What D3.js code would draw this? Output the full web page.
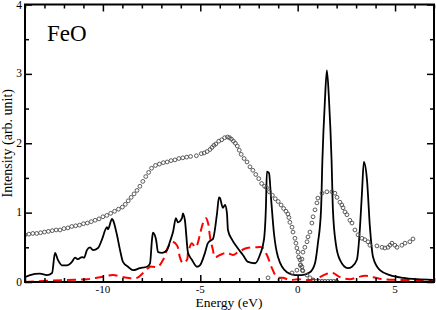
<!DOCTYPE html>
<html><head><meta charset="utf-8">
<script src="https://cdn.jsdelivr.net/npm/d3@7/dist/d3.min.js"></script>
<style>body{margin:0;background:#fff}svg{display:block}text{font-family:"Liberation Serif","Times New Roman",serif;fill:#000}</style>
</head><body>
<script>
// ---- data ----
const title = "FeO";
const xLabel = "Energy (eV)";
const yLabel = "Intensity (arb. unit)";
const xDomain = [-14, 7];
const yDomain = [0, 4];
const xMajorTicks = [-10, -5, 0, 5];
const yMajorTicks = [0, 1, 2, 3, 4];

// calculated spectrum (solid black)
const calcE = [-14.0,-13.74,-13.23,-12.87,-12.61,-12.46,-12.31,-12.1,-11.85,-11.59,-11.43,-11.28,-11.07,-10.97,-10.82,-10.66,-10.51,-10.25,-10.05,-9.79,-9.74,-9.53,-9.48,-9.28,-9.12,-8.97,-8.71,-8.45,-8.1,-7.74,-7.58,-7.48,-7.43,-7.27,-7.17,-6.96,-6.71,-6.56,-6.4,-6.25,-6.15,-5.94,-5.89,-5.79,-5.63,-5.43,-5.17,-5.02,-4.76,-4.61,-4.4,-4.35,-4.14,-4.04,-3.99,-3.84,-3.73,-3.63,-3.58,-3.37,-3.11,-2.81,-2.55,-2.19,-1.94,-1.73,-1.63,-1.58,-1.47,-1.37,-1.22,-1.01,-0.55,-0.14,0.22,0.63,0.89,1.04,1.2,1.27,1.4,1.5,1.61,1.74,1.81,1.97,2.17,2.58,2.79,3.04,3.2,3.3,3.4,3.56,3.71,3.87,4.22,4.74,5.41,6.12,6.94];
const calcI = [0.07,0.10,0.12,0.10,0.13,0.42,0.32,0.24,0.24,0.29,0.35,0.33,0.36,0.35,0.46,0.50,0.46,0.49,0.61,0.79,0.76,0.91,0.89,0.68,0.46,0.29,0.22,0.17,0.20,0.22,0.27,0.61,0.71,0.61,0.43,0.42,0.46,0.58,0.72,0.92,0.86,0.92,0.99,0.89,0.42,0.32,0.22,0.24,0.42,0.56,0.61,0.62,0.99,1.22,1.21,1.07,1.11,0.99,0.75,0.61,0.50,0.39,0.29,0.27,0.39,0.61,1.08,1.59,1.57,1.22,0.71,0.36,0.14,0.10,0.10,0.14,0.27,0.56,1.04,1.76,2.62,3.05,2.62,1.76,1.04,0.53,0.32,0.20,0.22,0.32,0.79,1.28,1.73,1.47,0.79,0.36,0.17,0.10,0.06,0.04,0.03];

// O-p partial (red dashed)
const partE = [-14,-11.84,-10.81,-10.15,-9.48,-8.76,-8.25,-7.94,-7.58,-7.43,-7.17,-6.91,-6.66,-6.45,-6.2,-6.04,-5.89,-5.68,-5.63,-5.43,-5.27,-5.17,-5.02,-4.86,-4.71,-4.6,-4.5,-4.35,-4.25,-3.99,-3.63,-3.32,-3.06,-2.6,-2.09,-1.83,-1.58,-1.32,-1.06,-0.76,-0.4,0.02,0.63,1.14,1.5,1.81,2.17,2.68,3.1,3.45,3.87,4.38,5.1,6.94];
const partI = [0.0,0.03,0.04,0.07,0.10,0.06,0.06,0.13,0.22,0.22,0.22,0.32,0.50,0.58,0.53,0.35,0.27,0.32,0.42,0.56,0.50,0.53,0.68,0.85,0.92,0.85,0.65,0.46,0.36,0.39,0.42,0.39,0.43,0.49,0.50,0.50,0.39,0.20,0.07,0.06,0.03,0.04,0.03,0.07,0.12,0.13,0.07,0.04,0.07,0.09,0.07,0.04,0.03,0.03];

// experiment, photoemission (open circles)
const xpsE = [-14.0,-13.8,-13.6,-13.4,-13.2,-13.0,-12.8,-12.6,-12.4,-12.2,-12.0,-11.8,-11.6,-11.4,-11.2,-11.0,-10.8,-10.6,-10.4,-10.2,-10.0,-9.8,-9.6,-9.4,-9.2,-9.0,-8.85,-8.7,-8.55,-8.4,-8.25,-8.1,-7.95,-7.8,-7.65,-7.5,-7.3,-7.1,-6.9,-6.7,-6.5,-6.3,-6.1,-5.9,-5.7,-5.5,-5.2,-4.95,-4.8,-4.65,-4.5,-4.4,-4.3,-4.2,-4.05,-3.9,-3.75,-3.6,-3.5,-3.4,-3.3,-3.2,-3.1,-3.0,-2.9,-2.75,-2.6,-2.45,-2.3,-2.15,-2.0,-1.85,-1.7,-1.6,-1.45,-1.3,-1.15,-1.0,-0.85,-0.72,-0.6,-0.5,-0.45,-0.4,-0.29,-0.24,-0.14,-0.09,-0.04,0.02,0.05,0.12,0.14,0.22,0.24,0.27,0.48,0.63,0.79,0.95,1.1,1.25,1.4,1.55,1.7,1.85,2.0];
const xpsI = [0.68,0.69,0.70,0.70,0.71,0.72,0.73,0.74,0.75,0.75,0.77,0.78,0.80,0.81,0.82,0.84,0.85,0.87,0.89,0.91,0.94,0.96,0.99,1.02,1.05,1.08,1.12,1.17,1.22,1.27,1.32,1.38,1.45,1.52,1.58,1.64,1.68,1.70,1.72,1.73,1.75,1.76,1.78,1.79,1.80,1.81,1.82,1.85,1.86,1.88,1.91,1.94,1.97,1.99,2.03,2.05,2.08,2.09,2.08,2.06,2.03,2.00,1.96,1.90,1.84,1.78,1.73,1.66,1.61,1.55,1.49,1.42,1.38,1.36,1.30,1.25,1.20,1.16,1.11,1.06,1.02,0.98,0.93,0.86,0.79,0.72,0.63,0.56,0.49,0.43,0.36,0.32,0.24,0.22,0.17,0.16,0.10,0.06,0.03,0.01,0.01,0.01,0.01,0.01,0.01,0.01,0.01];

// experiment, inverse photoemission (open circles)
const bisE = [-1.52,-0.91,-0.29,-0.04,0.15,0.22,0.27,0.37,0.48,0.53,0.63,0.73,0.79,0.89,0.99,1.04,1.25,1.5,1.76,1.91,2.02,2.17,2.27,2.33,2.43,2.53,2.68,2.79,2.94,3.1,3.3,3.45,3.61,3.71,4.07,4.33,4.48,4.64,4.74,4.84,4.99,5.1,5.35,5.51,5.76,5.92];
const bisI = [0.06,0.03,0.13,0.17,0.25,0.33,0.43,0.50,0.58,0.65,0.72,0.85,0.94,1.04,1.14,1.21,1.28,1.30,1.30,1.28,1.22,1.15,1.11,1.07,1.01,0.97,0.89,0.85,0.75,0.68,0.63,0.61,0.58,0.53,0.52,0.50,0.49,0.50,0.53,0.56,0.53,0.50,0.53,0.56,0.58,0.62];

// ---- drawing ----
const W = 436, H = 310;
const L = 25, R = 434, T = 4.5, B = 282;
const svg = d3.select("body").append("svg").attr("width", W).attr("height", H);
const x = d3.scaleLinear().domain(xDomain).range([L, R]);
const y = d3.scaleLinear().domain(yDomain).range([B, T]);

svg.append("defs").append("clipPath").attr("id","clip")
  .append("rect").attr("x", L).attr("y", T).attr("width", R-L).attr("height", B-T);
const g = svg.append("g").attr("clip-path","url(#clip)");

g.append("path").datum(partE.map((e,i)=>[e,partI[i]]))
  .attr("d", d3.line().x(d => x(d[0])).y(d => y(d[1])).curve(d3.curveCatmullRom.alpha(0.5)))
  .attr("fill","none").attr("stroke","#ff0000").attr("stroke-width",2)
  .attr("stroke-dasharray","9,5");

g.append("path").datum(calcE.map((e,i)=>[e,calcI[i]]))
  .attr("d", d3.line().x(d => x(d[0])).y(d => y(d[1])).curve(d3.curveMonotoneX))
  .attr("fill","none").attr("stroke","#000").attr("stroke-width",1.8);

const circ = xpsE.map((e,i)=>[e,xpsI[i]]).concat(bisE.map((e,i)=>[e,bisI[i]]));
g.selectAll("circle.exp").data(circ).enter().append("circle")
  .attr("cx", d => x(d[0])).attr("cy", d => y(d[1])).attr("r", 1.9)
  .attr("fill","none").attr("stroke","#4a4a4a").attr("stroke-width",0.9);

// axes: inward ticks on all four sides
const xMinor = d3.range(xDomain[0], xDomain[1]+0.001, 1).filter(v => !xMajorTicks.includes(v));
const yMinor = d3.range(0.5, 4, 1);
function ticks(axisGen, vals, size, transform){
  svg.append("g").attr("transform", transform)
    .call(axisGen.tickValues(vals).tickSize(size).tickFormat(""))
    .call(s => s.select(".domain").remove())
    .call(s => s.selectAll("line").attr("stroke","#000").attr("stroke-width",1.5));
}
ticks(d3.axisTop(x), xMajorTicks, 7, `translate(0,${B})`);
ticks(d3.axisTop(x), xMinor, 4, `translate(0,${B})`);
ticks(d3.axisBottom(x), xMajorTicks, 7, `translate(0,${T})`);
ticks(d3.axisBottom(x), xMinor, 4, `translate(0,${T})`);
ticks(d3.axisRight(y), yMajorTicks, 7, `translate(${L},0)`);
ticks(d3.axisRight(y), yMinor, 4, `translate(${L},0)`);
ticks(d3.axisLeft(y), yMajorTicks, 7, `translate(${R},0)`);
ticks(d3.axisLeft(y), yMinor, 4, `translate(${R},0)`);

svg.append("rect").attr("x", L).attr("y", T).attr("width", R-L).attr("height", B-T)
  .attr("fill","none").attr("stroke","#000").attr("stroke-width",2);

// tick labels
svg.selectAll("text.xt").data(xMajorTicks).enter().append("text")
  .attr("x", d => x(d)).attr("y", B + 10.5).attr("text-anchor","middle")
  .attr("font-size", 11).text(d => d < 0 ? "-" + Math.abs(d) : d);
svg.selectAll("text.yt").data(yMajorTicks).enter().append("text")
  .attr("x", L - 3).attr("y", d => Math.max(8.5, y(d) + 3.5)).attr("text-anchor","end")
  .attr("font-size", 11.5).text(d => d);

svg.append("text").attr("x", 229).attr("y", 307).attr("text-anchor","middle")
  .attr("font-size", 13.5).text(xLabel);
svg.append("text").attr("transform", `translate(12,${(T+B)/2}) rotate(-90)`)
  .attr("text-anchor","middle").attr("font-size", 14).text(yLabel);
svg.append("text").attr("x", 47).attr("y", 41).attr("font-size", 23).text(title);
</script>
</body></html>
